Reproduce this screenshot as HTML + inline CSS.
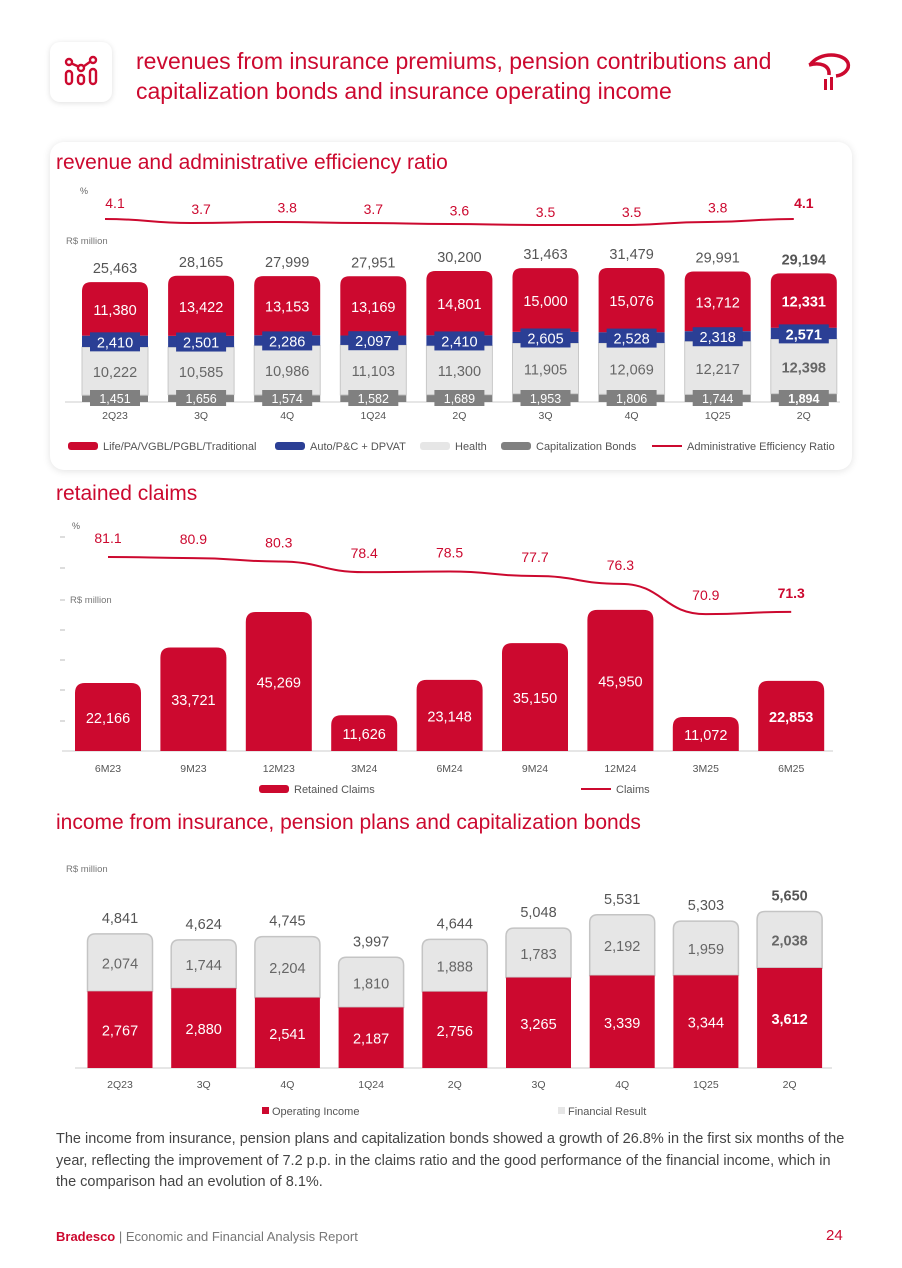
<!DOCTYPE html>
<html><head><meta charset="utf-8">
<style>
body{margin:0;background:#fff;font-family:"Liberation Sans",sans-serif;}
#page{position:relative;width:902px;height:1268px;overflow:hidden;background:#fff;}
.abs{position:absolute;}
.card{position:absolute;left:50px;top:142px;width:802px;height:328px;background:#fff;border-radius:14px;box-shadow:0 1px 8px rgba(0,0,0,0.12);}
.title{color:#cc092f;font-size:21px;}
svg text{font-family:"Liberation Sans",sans-serif;}
</style></head><body>
<div id="page">
  <div class="abs" style="left:50px;top:42px;width:62px;height:60px;border-radius:10px;box-shadow:0 1px 6px rgba(0,0,0,0.13);background:#fff;">
    <svg width="62" height="60"><g fill="none" stroke="#cc092f" stroke-width="2.4">
      <circle cx="19" cy="20" r="3"/><circle cx="31" cy="26" r="3"/><circle cx="43" cy="18" r="3"/>
      <line x1="21.5" y1="21.5" x2="28.5" y2="24.5"/><line x1="33.5" y1="24.5" x2="40.5" y2="19.5"/>
      <rect x="16" y="29" width="6" height="13" rx="3"/><rect x="28" y="33" width="6" height="9" rx="3"/><rect x="40" y="27" width="6" height="15" rx="3"/></g></svg>
  </div>
  <div class="abs title" style="left:136px;top:46px;font-size:23px;line-height:30px;color:#cc092f;">revenues from insurance premiums, pension contributions and<br>capitalization bonds and insurance operating income</div>
  <svg class="abs" style="left:800px;top:45px" width="55" height="50"><g fill="none" stroke="#cc092f" stroke-width="3.5"><path d="M10 20 C 20 6, 44 8, 48 18 C 50 24, 44 30, 36 31"/><path d="M9 20 C 20 17, 30 20, 29 30"/></g><rect x="24" y="34" width="3" height="11" fill="#cc092f"/><rect x="30" y="32" width="3" height="13" fill="#cc092f"/></svg>

  <div class="card"></div>
  <div class="abs title" style="left:56px;top:151px;">revenue and administrative efficiency ratio</div>
  <div class="abs title" style="left:56px;top:482px;">retained claims</div>
  <div class="abs title" style="left:56px;top:811px;">income from insurance, pension plans and capitalization bonds</div>

  <svg id="charts" class="abs" style="left:0;top:0" width="902" height="1268"></svg>

  <div class="abs" style="left:56px;top:1129px;white-space:nowrap;font-size:14.5px;line-height:21.5px;color:#444;">The income from insurance, pension plans and capitalization bonds showed a growth of 26.8% in the first six months of the<br>year, reflecting the improvement of 7.2 p.p. in the claims ratio and the good performance of the financial income, which in<br>the comparison had an evolution of 8.1%.</div>
  <div class="abs" style="left:56px;top:1229px;font-size:13px;color:#777;"><b style="color:#cc092f">Bradesco</b> | Economic and Financial Analysis Report</div>
  <div class="abs" style="left:826px;top:1227px;font-size:15px;color:#cc092f;">24</div>
</div>
<script>
// Chart 1 data
const cats1 = ['2Q23','3Q','4Q','1Q24','2Q','3Q','4Q','1Q25','2Q'];
const life = [11380,13422,13153,13169,14801,15000,15076,13712,12331];
const auto = [2410,2501,2286,2097,2410,2605,2528,2318,2571];
const health = [10222,10585,10986,11103,11300,11905,12069,12217,12398];
const capBonds = [1451,1656,1574,1582,1689,1953,1806,1744,1894];
const totals1 = [25463,28165,27999,27951,30200,31463,31479,29991,29194];
const effRatio = [4.1,3.7,3.8,3.7,3.6,3.5,3.5,3.8,4.1];
// Chart 2 data
const cats2 = ['6M23','9M23','12M23','3M24','6M24','9M24','12M24','3M25','6M25'];
const retained = [22166,33721,45269,11626,23148,35150,45950,11072,22853];
const claims = [81.1,80.9,80.3,78.4,78.5,77.7,76.3,70.9,71.3];
// Chart 3 data
const cats3 = ['2Q23','3Q','4Q','1Q24','2Q','3Q','4Q','1Q25','2Q'];
const opIncome = [2767,2880,2541,2187,2756,3265,3339,3344,3612];
const finResult = [2074,1744,2204,1810,1888,1783,2192,1959,2038];
const totals3 = [4841,4624,4745,3997,4644,5048,5531,5303,5650];

const RED='#cc092f', BLUE='#2b3f95', LG='#e6e6e6', DG='#808080';
const svg=document.getElementById('charts');
const NS='http://www.w3.org/2000/svg';
function el(tag,attrs,parent){const e=document.createElementNS(NS,tag);for(const k in attrs)e.setAttribute(k,attrs[k]);(parent||svg).appendChild(e);return e;}
function txt(x,y,s,size,fill,weight,anchor){const t=el('text',{x:x,y:y,'font-size':size,fill:fill,'font-weight':weight||'normal','text-anchor':anchor||'middle'});t.textContent=s;return t;}
const fmt=v=>v.toLocaleString('en-US');
function topRound(x,y,w,h,r){r=Math.min(r,h);return `M${x},${y+h} L${x},${y+r} Q${x},${y} ${x+r},${y} L${x+w-r},${y} Q${x+w},${y} ${x+w},${y+r} L${x+w},${y+h} Z`;}
function smooth(pts){let d=`M${pts[0][0]},${pts[0][1]}`;for(let i=1;i<pts.length;i++){const p0=pts[i-1],p1=pts[i];const mx=(p0[0]+p1[0])/2;d+=` C${mx},${p0[1]} ${mx},${p1[1]} ${p1[0]},${p1[1]}`;}return d;}

// ---------- Chart 1 ----------
const x1=i=>115+i*86.1, base1=402, bw1=66;
const h1=t=>60.6+0.00233*t;
const effY=v=>219+(4.1-v)*10;
txt(80,194,'%',9,'#666','normal','start');
txt(66,244,'R$ million',9.5,'#777','normal','start');
el('line',{x1:65,y1:base1,x2:840,y2:base1,stroke:'#ccc','stroke-width':1});
cats1.forEach((c,i)=>{
  const g=el('g',{});
  
  
  const H=h1(totals1[i]), k=H/totals1[i], x=x1(i)-bw1/2, last=i===8;
  const hc=capBonds[i]*k, hh=health[i]*k, ha=auto[i]*k, hl=life[i]*k;
  let y=base1-hc;
  el('rect',{x:x,y:y,width:bw1,height:hc,fill:DG},g);
  const yh=y-hh; el('rect',{x:x,y:yh,width:bw1,height:hh,fill:LG,stroke:'#c8c8c8','stroke-width':1},g);
  const ya=yh-ha; el('rect',{x:x,y:ya,width:bw1,height:ha,fill:BLUE},g);
  const yl=ya-hl; el('path',{d:topRound(x,yl,bw1,hl,9),fill:RED},g);
  txt(x1(i),yl+hl/2+6,fmt(life[i]),14.5,'#fff',last?'bold':'normal');
  el('rect',{x:x1(i)-25,y:ya+ha/2-9,width:50,height:19,fill:BLUE},g);
  txt(x1(i),ya+ha/2+6,fmt(auto[i]),14.5,'#fff',last?'bold':'normal');
  txt(x1(i),yh+hh/2+6,fmt(health[i]),14.5,'#666',last?'bold':'normal');
  el('rect',{x:x1(i)-25,y:base1-12,width:50,height:16,fill:DG},g);
  txt(x1(i),base1+1,fmt(capBonds[i]),12.5,'#fff',last?'bold':'normal');
  txt(x1(i),yl-9,fmt(totals1[i]),14.5,'#555',last?'bold':'normal');
  txt(x1(i),419,c,10.5,'#555');
  txt(x1(i),202+(4.1-effRatio[i])*15+6,effRatio[i].toFixed(1),14,RED,last?'bold':'normal');
});
const effLine=el('path',{d:smooth(effRatio.map((v,i)=>[x1(i)-10,effY(v)])),fill:'none',stroke:RED,'stroke-width':2});


const leg1=[['rect',RED,68,'Life/PA/VGBL/PGBL/Traditional'],['rect',BLUE,275,'Auto/P&C + DPVAT'],['rect',LG,420,'Health'],['rect',DG,501,'Capitalization Bonds'],['line',RED,652,'Administrative Efficiency Ratio']];
leg1.forEach(l=>{
  const g=el('g',{});
  
  
  if(l[0]==='rect')el('rect',{x:l[2],y:442,width:30,height:8,rx:3,fill:l[1]},g);
  else el('line',{x1:l[2],y1:446,x2:l[2]+30,y2:446,stroke:l[1],'stroke-width':2},g);
  txt(l[2]+35,450,l[3],11,'#555','normal','start');
});

// ---------- Chart 2 ----------
const x2=i=>108+i*85.4, base2=751, bw2=66, k2=0.00307;
const claimY=v=>557+(81.1-v)*5.6;
[537,568,600,630,660,690,721].forEach(y=>el('line',{x1:60,y1:y,x2:65,y2:y,stroke:'#bbb','stroke-width':1}));
txt(72,529,'%',9,'#666','normal','start');
txt(70,603,'R$ million',9.5,'#777','normal','start');
el('line',{x1:62,y1:base2,x2:833,y2:base2,stroke:'#ccc','stroke-width':1});
cats2.forEach((c,i)=>{
  const h=retained[i]*k2, last=i===8;
  const b=el('path',{d:topRound(x2(i)-bw2/2,base2-h,bw2,h,10),fill:RED});
  
  
  txt(x2(i),base2-h/2+6,fmt(retained[i]),14.5,'#fff',last?'bold':'normal');
  txt(x2(i),772,c,10.5,'#555');
  txt(x2(i),claimY(claims[i])-14,claims[i].toFixed(1),14,RED,last?'bold':'normal');
});
const cl=el('path',{d:smooth(claims.map((v,i)=>[x2(i),claimY(v)])),fill:'none',stroke:RED,'stroke-width':2});


el('rect',{x:259,y:785,width:30,height:8,rx:3,fill:RED});
txt(294,793,'Retained Claims',11,'#555','normal','start');
el('line',{x1:581,y1:789,x2:611,y2:789,stroke:RED,'stroke-width':2});
txt(616,793,'Claims',11,'#555','normal','start');

// ---------- Chart 3 ----------
const x3=i=>120+i*83.7, base3=1068, bw3=65, k3=0.0277;
txt(66,872,'R$ million',9.5,'#777','normal','start');
el('line',{x1:75,y1:base3,x2:832,y2:base3,stroke:'#ccc','stroke-width':1});
cats3.forEach((c,i)=>{
  const g=el('g',{});
  
  
  const ho=opIncome[i]*k3, hf=finResult[i]*k3, last=i===8, x=x3(i)-bw3/2;
  el('path',{d:topRound(x,base3-ho-hf,bw3,hf,8),fill:LG,stroke:'#c4c4c4','stroke-width':1.5},g);
  el('rect',{x:x,y:base3-ho,width:bw3,height:ho,fill:RED},g);
  txt(x3(i),base3-ho/2+6,fmt(opIncome[i]),14.5,'#fff',last?'bold':'normal');
  txt(x3(i),base3-ho-hf/2+6,fmt(finResult[i]),14.5,'#666',last?'bold':'normal');
  txt(x3(i),base3-ho-hf-11,fmt(totals3[i]),14.5,'#555',last?'bold':'normal');
  txt(x3(i),1088,c,10.5,'#555');
});
el('rect',{x:262,y:1107,width:7,height:7,fill:RED});
txt(272,1115,'Operating Income',11,'#555','normal','start');
el('rect',{x:558,y:1107,width:7,height:7,fill:LG});
txt(568,1115,'Financial Result',11,'#555','normal','start');
</script>
</body></html>
